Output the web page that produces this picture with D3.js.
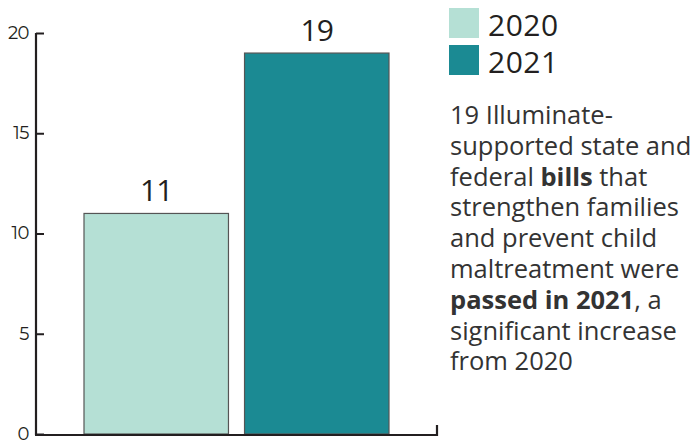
<!DOCTYPE html>
<html>
<head>
<meta charset="utf-8">
<script src="https://cdn.jsdelivr.net/npm/d3@7"></script>
<style>
  body { margin: 0; background: #fff; }
  svg text { font-family: "Open Sans", "Noto Sans", sans-serif; }
</style>
</head>
<body>
<div id="chart"></div>
<script>
// data
var years = ['2020', '2021'];
var bills = [11, 19];
var yTicks = [0, 5, 10, 15, 20];
var colours = ['#b5e0d5', '#1b8a93'];
var noteLines = [
    [['19 Illuminate-', false]],
    [['supported state and', false]],
    [['federal ', false], ['bills', true], [' that', false]],
    [['strengthen families', false]],
    [['and prevent child', false]],
    [['maltreatment were', false]],
    [['passed in 2021', true], [', a', false]],
    [['significant increase', false]],
    [['from 2020', false]]
];

var width = 696, height = 442;

var svg = d3.select('#chart')
    .append('svg')
    .attr('width', width)
    .attr('height', height);

var x_scale = d3.scaleBand()
    .domain(years)
    .range([84, 389])
    .paddingInner(0.1)
    .paddingOuter(0);

var y_scale = d3.scaleLinear()
    .domain([0, 20])
    .range([434, 33]);

// y axis
var y_axis = d3.axisLeft(y_scale)
    .tickValues(yTicks)
    .tickSize(-8)
    .tickPadding(6);

var yg = svg.append('g')
    .attr('transform', 'translate(36,0)')
    .call(y_axis);
yg.select('.domain').remove();
yg.append('line')
    .attr('x1', 0).attr('x2', 0)
    .attr('y1', y_scale(20)).attr('y2', y_scale(0) + 1)
    .attr('stroke', '#231f20')
    .attr('stroke-width', 2.2);
yg.selectAll('.tick line')
    .attr('stroke', '#231f20')
    .attr('stroke-width', 2);
yg.selectAll('.tick text')
    .attr('x', -7)
    .attr('dy', '0.3em')
    .attr('fill', '#231f20')
    .style('font-size', '18px')
    .style('letter-spacing', '-0.5px')
    .style('font-family', 'Montserrat, "Open Sans", sans-serif');

// bars
svg.selectAll('.bar')
    .data(bills)
    .enter()
    .append('rect')
    .attr('class', 'bar')
    .attr('x', function(d, i) { return x_scale(years[i]); })
    .attr('width', x_scale.bandwidth())
    .attr('y', function(d) { return y_scale(d); })
    .attr('height', function(d) { return y_scale(0) - y_scale(d); })
    .attr('fill', function(d, i) { return colours[i]; })
    .attr('stroke', '#555')
    .attr('stroke-width', 1.2);

// value labels
svg.selectAll('.val')
    .data(bills)
    .enter()
    .append('text')
    .attr('class', 'val')
    .attr('x', function(d, i) { return x_scale(years[i]) + x_scale.bandwidth() / 2; })
    .attr('y', function(d) { return y_scale(d) - 12; })
    .attr('text-anchor', 'middle')
    .attr('fill', '#231f20')
    .style('font-size', '30px')
    .style('letter-spacing', '-1px')
    .text(function(d) { return d; });

// x axis baseline with upturned end
svg.append('path')
    .attr('d', 'M35,' + (y_scale(0) + 1) + 'H437V' + (y_scale(0) - 9))
    .attr('fill', 'none')
    .attr('stroke', '#231f20')
    .attr('stroke-width', 2.2);

// legend
var legend = svg.selectAll('.legend')
    .data(years)
    .enter()
    .append('g')
    .attr('class', 'legend')
    .attr('transform', function(d, i) { return 'translate(449,' + (8 + i * 37) + ')'; });

legend.append('rect')
    .attr('width', 30)
    .attr('height', 30)
    .attr('fill', function(d, i) { return colours[i]; });

legend.append('text')
    .attr('x', 39)
    .attr('y', 28)
    .attr('fill', '#231f20')
    .style('font-size', '30px')
    .style('letter-spacing', '0.5px')
    .text(function(d) { return d; });

// note text
var note = svg.append('text')
    .attr('x', 450)
    .attr('fill', '#333')
    .style('font-size', '25.5px');

noteLines.forEach(function(line, i) {
    var first = true;
    line.forEach(function(part) {
        var ts = note.append('tspan')
            .text(part[0])
            .style('font-weight', part[1] ? 'bold' : 'normal');
        if (first) {
            ts.attr('x', 450).attr('y', 124 + i * 30.8);
            first = false;
        }
    });
});
</script>
</body>
</html>
